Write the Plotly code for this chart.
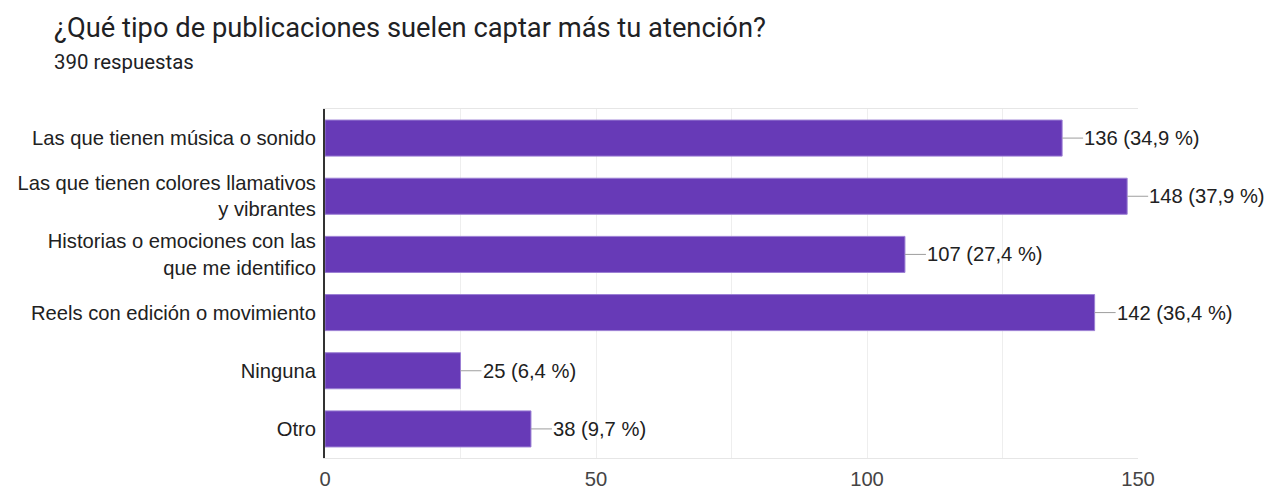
import plotly.graph_objects as go

title = "¿Qué tipo de publicaciones suelen captar más tu atención?"
subtitle = "390 respuestas"
total = 390
categories = [
    "Las que tienen música o sonido",
    "Las que tienen colores llamativos<br>y vibrantes",
    "Historias o emociones con las<br>que me identifico",
    "Reels con edición o movimiento",
    "Ninguna",
    "Otro",
]
values = [136, 148, 107, 142, 25, 38]
x_ticks = [0, 50, 100, 150]

W, H = 1268, 489
ML, MR, MT, MB = 325, 130, 109, 31
PW, PH = W - ML - MR, H - MT - MB

ARIAL = "Arial, 'Liberation Sans', sans-serif"
ROBOTO = "Roboto, Arial, sans-serif"
FS = 20.2

labels = [f"{v} ({(v / total * 100):.1f} %)".replace(".", ",") for v in values]

fig = go.Figure()
fig.add_trace(go.Bar(
    x=values, y=categories, orientation="h",
    marker=dict(color="#673ab7", line=dict(color="#9b7fd4", width=1)),
    hoverinfo="skip",
))

for v, c, lab in zip(values, categories, labels):
    fig.add_annotation(
        x=v, y=c, xref="x", yref="y", text=lab, showarrow=True,
        arrowhead=0, arrowwidth=1, arrowcolor="#9e9e9e", ax=21, ay=0,
        xanchor="left", yanchor="middle", borderpad=0, standoff=0,
        font=dict(family=ARIAL, size=FS, color="#212121"),
    )

def paper_xy(px, py):
    return (px - ML) / PW, (H - MB - py) / PH

tx, ty = paper_xy(52, 28)
fig.add_annotation(
    x=tx, y=ty, xref="paper", yref="paper", text=title, showarrow=False,
    font=dict(family=ROBOTO, size=27.3, color="#202124"),
    xanchor="left", yanchor="middle",
)
sx, sy = paper_xy(52, 62)
fig.add_annotation(
    x=sx, y=sy, xref="paper", yref="paper", text=subtitle,
    showarrow=False, xanchor="left", yanchor="middle",
    font=dict(family=ROBOTO, size=20.4, color="#202124"),
)

fig.update_layout(
    width=W, height=H,
    margin=dict(l=ML, r=MR, t=MT, b=MB),
    paper_bgcolor="white", plot_bgcolor="white",
    bargap=0.38, showlegend=False,
    font=dict(family=ARIAL, size=FS, color="#212121"),
    xaxis=dict(
        range=[0, 150], tickvals=x_ticks, showgrid=True, gridcolor="#eeeeee",
        gridwidth=1, zeroline=False, showline=True, linecolor="#e6e6e6",
        mirror=True, ticks="", ticklabelstandoff=3, automargin=False,
        tickfont=dict(family=ARIAL, size=FS, color="#444444"),
        minor=dict(dtick=25, showgrid=True, gridcolor="#eeeeee", gridwidth=1),
        fixedrange=True,
    ),
    yaxis=dict(
        autorange="reversed", showline=True, linecolor="#333333", linewidth=2,
        showgrid=False, ticks="", ticklabelstandoff=3, automargin=False,
        tickfont=dict(family=ARIAL, size=FS, color="#212121"),
        fixedrange=True,
    ),
)

fig.write_html("out.html")
